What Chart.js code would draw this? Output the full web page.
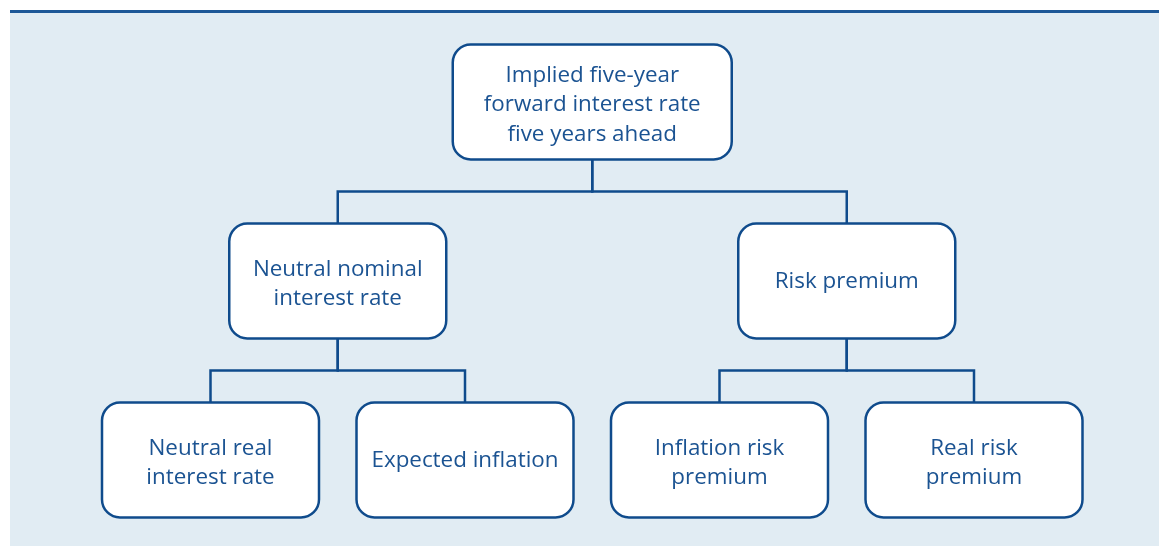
<!DOCTYPE html>
<html>
<head>
<meta charset="utf-8">
<script src="https://cdn.jsdelivr.net/npm/chart.js@4"></script>
<style>
  body { margin: 0; background: #ffffff; }
  #wrap { width: 1160px; height: 547px; }
</style>
</head>
<body>
<div id="wrap"><canvas id="tree" width="1160" height="547"></canvas></div>
<script>
// --- Tree data ---
const nodeLabels = [
    ['Implied five-year', 'forward interest rate', 'five years ahead'],
    ['Neutral nominal', 'interest rate'],
    ['Risk premium'],
    ['Neutral real', 'interest rate'],
    ['Expected inflation'],
    ['Inflation risk', 'premium'],
    ['Real risk', 'premium']
];
const nodeParent = [-1, 0, 0, 1, 1, 2, 2];
const nodeLevel = [0, 1, 1, 2, 2, 2, 2];
const nodeSlot = [1.5, 0.5, 2.5, 0, 1, 2, 3];

const lineColor = '#0f4b8c';
const textColor = '#1b5392';

// elbow connectors, one dataset per child
const linkSets = [];
nodeParent.forEach((p, i) => {
    if (p < 0) return;
    const midY = nodeLevel[i] - 0.5;
    linkSets.push({
        data: [
            { x: nodeSlot[p], y: nodeLevel[p] },
            { x: nodeSlot[p], y: midY },
            { x: nodeSlot[i], y: midY },
            { x: nodeSlot[i], y: nodeLevel[i] }
        ],
        showLine: true,
        borderColor: lineColor,
        borderWidth: 2.5,
        pointRadius: 0,
        fill: false
    });
});

const nodeSet = {
    data: nodeSlot.map((s, i) => ({ x: s, y: nodeLevel[i] })),
    pointRadius: 0,
    showLine: false
};

// panel background + top rule
const panelPlugin = {
    id: 'panel',
    beforeDraw(chart) {
        const c = chart.ctx;
        c.save();
        c.fillStyle = '#ffffff';
        c.fillRect(0, 0, chart.width, chart.height);
        c.fillStyle = '#e1ecf3';
        c.fillRect(10, 12, 1149, 534);
        c.fillStyle = '#1d5897';
        c.fillRect(10, 10, 1149, 3);
        c.restore();
    }
};

// boxes and labels on top of the connectors
const boxPlugin = {
    id: 'boxes',
    afterDatasetsDraw(chart) {
        const c = chart.ctx;
        const xs = chart.scales.x, ys = chart.scales.y;
        c.save();
        nodeLabels.forEach((lines, i) => {
            const cx = xs.getPixelForValue(nodeSlot[i]);
            const cy = ys.getPixelForValue(nodeLevel[i]);
            const w = nodeLevel[i] === 0 ? 279 : 217;
            const h = 115;
            c.beginPath();
            c.roundRect(cx - w / 2, cy - h / 2, w, h, 18);
            c.fillStyle = '#ffffff';
            c.fill();
            c.lineWidth = 2.5;
            c.strokeStyle = lineColor;
            c.stroke();

            c.fillStyle = textColor;
            c.font = '22.4px "Open Sans", sans-serif';
            c.textAlign = 'center';
            c.textBaseline = 'middle';
            const lh = 29.5;
            const nudge = lines.length === 1 ? 0.5 : 3;
            const top = cy - (lines.length - 1) * lh / 2;
            lines.forEach((t, k) => c.fillText(t, cx, top + k * lh + nudge));
        });
        c.restore();
    }
};

new Chart(document.getElementById('tree'), {
    type: 'scatter',
    data: { datasets: [...linkSets, nodeSet] },
    options: {
        responsive: false,
        animation: false,
        layout: { padding: 0 },
        plugins: { legend: { display: false }, tooltip: { enabled: false } },
        scales: {
            x: { display: false, min: -210.5 / 254.5, max: (1160 - 210.5) / 254.5 },
            y: { display: false, reverse: true, min: -102 / 179, max: (547 - 102) / 179 }
        }
    },
    plugins: [panelPlugin, boxPlugin]
});
</script>
</body>
</html>
